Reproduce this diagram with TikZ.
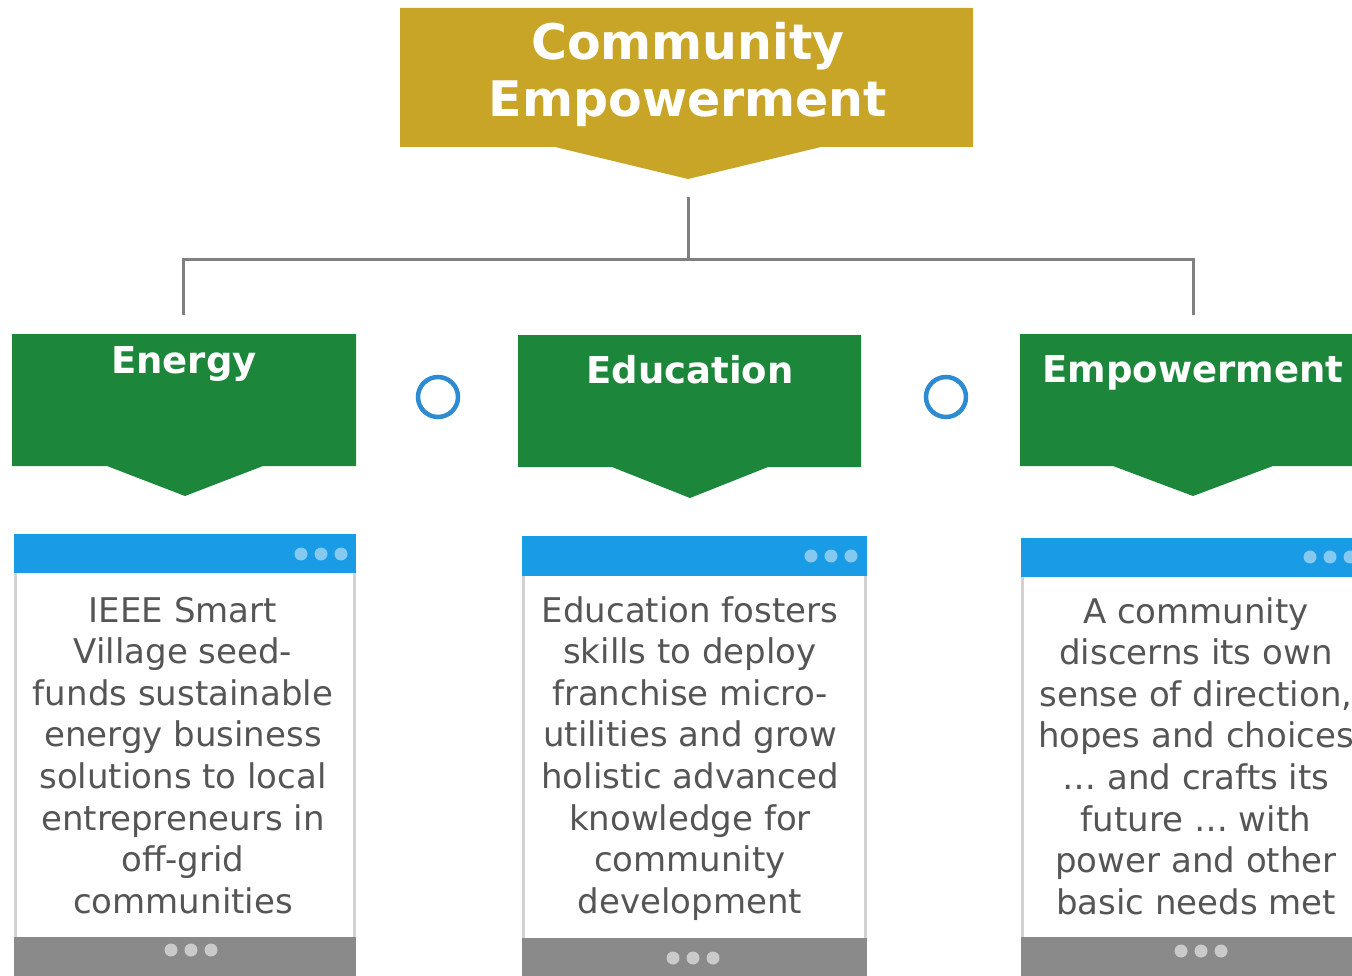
\documentclass[tikz,border=0pt]{standalone}
\usepackage{fontspec}
\setmainfont{DejaVu Sans}
\definecolor{goldc}{HTML}{C8A526}
\definecolor{greenc}{HTML}{1C873A}
\definecolor{bluebar}{HTML}{1A9BE6}
\definecolor{bluedot}{HTML}{86C9F0}
\definecolor{ringc}{HTML}{2C8BD2}
\definecolor{graybar}{HTML}{8A8A8A}
\definecolor{graydot}{HTML}{CACACA}
\definecolor{bodytext}{HTML}{555555}
\definecolor{connc}{HTML}{808080}
\definecolor{edgec}{HTML}{D2D2D2}
\begin{document}
\begin{tikzpicture}[x=1pt,y=-1pt,
  conn/.style={draw=connc,line width=3pt},
  ring/.style={draw=ringc,line width=4.5pt},
  tabtitle/.style={anchor=base,inner sep=0pt,text=white,font=\fontsize{37}{44}\selectfont\bfseries},
  bigtitle/.style={anchor=base,inner sep=0pt,text=white,font=\fontsize{49}{57}\selectfont\bfseries},
  bodytxt/.style={anchor=base,inner sep=0pt,text=bodytext},
  bdot/.style={fill=bluedot},
  gdot/.style={fill=graydot}]
\useasboundingbox (0,0) rectangle (1352,976);
\clip (0,0) rectangle (1352,976);
\fill[white] (0,0) rectangle (1352,976);

% top banner
\fill[goldc] (400,8) -- (973,8) -- (973,147) -- (821,147) -- (688,179) -- (555,147) -- (400,147) -- cycle;
\node[bigtitle] (title) at (688,60) {\parbox[t]{560pt}{\fontsize{49}{57}\selectfont\bfseries\centering Community\\Empowerment}};

% connectors
\coordinate (stem) at (688,197);
\coordinate (hub) at (688,260);
\coordinate (lb) at (183,315);
\coordinate (rb) at (1193,315);
\draw[conn] (stem) -- (hub);
\draw[conn] (lb) |- (hub) -| (rb);

% green tabs
\fill[greenc] (12,334) -- (356,334) -- (356,466) -- (263,466) -- (185,496) -- (107,466) -- (12,466) -- cycle;
\fill[greenc] (518,335) -- (861,335) -- (861,467) -- (768,467) -- (690,498) -- (612,467) -- (518,467) -- cycle;
\fill[greenc] (1020,334) -- (1366,334) -- (1366,466) -- (1273,466) -- (1193,496) -- (1113,466) -- (1020,466) -- cycle;
\node[tabtitle] (t1) at (184,373) {Energy};
\node[tabtitle] (t2) at (690,383) {Education};
\node[tabtitle] (t3) at (1193,382) {Empowerment};

% rings
\draw[ring] (438,397) circle (20);
\draw[ring] (946,397) circle (20);

% panel 1
\fill[white] (14,573) rectangle (356,937);
\draw[edgec,line width=2.5pt] (15.5,573) -- (15.5,937) (354.5,573) -- (354.5,937);
\fill[bluebar] (14,534) rectangle (356,573);
\fill[graybar] (14,937) rectangle (356,985);
\foreach \x in {301,321,341} \fill[bdot] (\x,554) circle (6.5);
\foreach \x in {171,191,211} \fill[gdot] (\x,950) circle (6.5);
\node[bodytxt] (b1) at (183,622) {\parbox[t]{340pt}{\fontsize{34}{41.6}\selectfont\centering IEEE Smart\\Village seed-\\funds sustainable\\energy business\\solutions to local\\entrepreneurs in\\off-grid\\communities}};

% panel 2
\fill[white] (522,576) rectangle (867,938);
\draw[edgec,line width=2.5pt] (523.5,576) -- (523.5,938) (865.5,576) -- (865.5,938);
\fill[bluebar] (522,536) rectangle (867,576);
\fill[graybar] (522,938) rectangle (867,985);
\foreach \x in {811,831,851} \fill[bdot] (\x,556) circle (6.5);
\foreach \x in {673,693,713} \fill[gdot] (\x,958) circle (6.5);
\node[bodytxt] (b2) at (690,622) {\parbox[t]{345pt}{\fontsize{34}{41.6}\selectfont\centering Education fosters\\skills to deploy\\franchise micro-\\utilities and grow\\holistic advanced\\knowledge for\\community\\development}};

% panel 3
\fill[white] (1021,577) rectangle (1368,937);
\draw[edgec,line width=2.5pt] (1022.5,577) -- (1022.5,937);
\fill[bluebar] (1021,538) rectangle (1368,577);
\fill[graybar] (1021,937) rectangle (1368,985);
\foreach \x in {1310,1330,1350} \fill[bdot] (\x,557) circle (6.5);
\foreach \x in {1181,1201,1221} \fill[gdot] (\x,951) circle (6.5);
\node[bodytxt] (b3) at (1196,623) {\parbox[t]{345pt}{\fontsize{34}{41.6}\selectfont\centering A community\\discerns its own\\sense of direction,\\hopes and choices\\\dots{} and crafts its\\future \dots{} with\\power and other\\basic needs met}};
\end{tikzpicture}
\end{document}
